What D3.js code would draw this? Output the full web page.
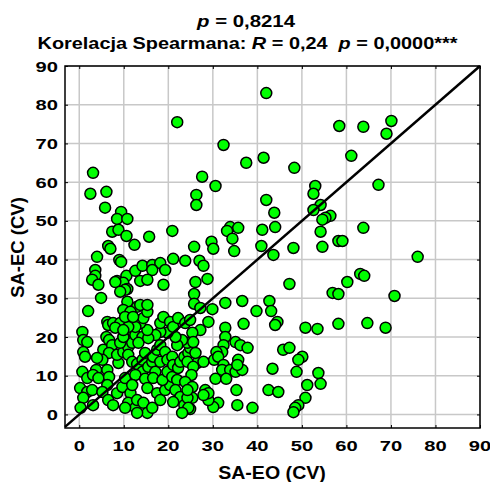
<!DOCTYPE html>
<html><head><meta charset="utf-8">
<script src="https://cdn.jsdelivr.net/npm/d3@7"></script>
<style>body{margin:0;background:#fff}svg{display:block}text{font-family:"Liberation Sans",Arial,sans-serif;font-weight:bold;fill:#000}</style>
</head><body><svg id="c" width="490" height="482"></svg>
<script>
const xTicks = [0,10,20,30,40,50,60,70,80,90];
const yTicks = [0,10,20,30,40,50,60,70,80,90];
const xTitle = "SA-EO (CV)";
const yTitle = "SA-EC (CV)";
const saEO = [
42,22,70.1,69,58.4,63.8,61.1,67.2,32.4,37.5,41.4,48.3,27.6,30.6,26.3,42,53,52.6,3.1,2.5,6.1,5.8,9.4,8.5,10.8,7.4,8.8,10.6,12.4,15.7,20.9,6.5,7,4,9,9.4,3.6,3.6,2.9,4.3,8.5,10.6,9.9,10.8,12.6,14.2,16.4,18.2,16.4,19.3,21.1,23.8,13.7,15.3,8.1,10.3,4.9,18.9,
26.3,43.8,54.2,52.6,56.4,55.3,54.6,54.2,54.6,58.2,33.9,35.7,33.2,34.4,34.8,41.1,44,40.9,43.6,48.1,29.7,30.1,25.8,27,27.9,28.8,26.1,25.8,47.2,56.9,58.2,32.8,36.6,42.7,43.1,39.8,29.9,25.8,27.2,
29,27.2,25.4,26.5,27.9,32.8,32.8,32.4,32.1,30.8,30.3,31.2,32.4,32.1,33.9,35.1,36.6,35.7,35.5,30.6,33,35.3,35.5,38.9,31.2,30.1,29,28.3,29,27.9,24.9,36.9,35.1,36.2,37.8,44.5,44,43.4,42.5,44.7,45.8,47.2,50.1,49.2,48.8,50.8,53.5,58.2,53.7,54.2,51.2,50.8,49.2,48.5,48.1,25.4,
63.8,59.1,76,63.1,64,60.2,70.8,64.7,68.8,
2,0.7,0.9,1.8,0.9,1.3,0.7,1.8,0.2,1.8,0.9,2.9,3.1,6.3,6.5,7.6,9.2,8.1,6.1,6.7,5.4,7.4,6.7,5.2,4,3.8,3.1,4.3,6.3,6.7,6.3,5.2,6.5,7.6,8.5,9.7,11.5,11,12.6,10.3,13,14.4,15.3,13,16.4,10.3,8.8,8.5,9.9,11,11.9,9.2,9.9,12.1,12.6,14.2,13.3,11,11.9,13,14.2,14.8,14.2,12.6,11.9,14.8,15.5,16.4,16.6,17.1,16.6,15.3,17.5,18.2,19.3,20.4,18.7,19.8,20.9,22,21.6,22.7,21.1,23.6,24.3,24.5,17.5,18.2,19.3,18.2,19.8,20.9,21.1,22.2,22.7,23.6,24.5,24.3,24.9,24.3,23.1,22,21.6,19.8,18.2,17.1,15.5,15.3,13.7,14.4,12.6,11,9.9,18.2,18.9,20.4,21.1,22.2,23.8,24.9,25.4,25.6,26.1,25.6,25.2,23.8,25.4,24.3,15.3,13,10.8,9.9,11.5,10.3,12.1,9.2,13.7,15.3,0.3,23.1
];
const saEC = [
83,75.5,75.8,72.5,74.5,74.3,66.8,59.3,69.6,65,66.3,63.7,61.4,59,56.7,55.4,59,57,62.4,57,57.5,53.4,52.3,50.5,50.5,47.2,47.7,46.1,43.8,45.9,47.4,43.5,42.8,40.7,39.9,39.4,37.3,35.8,34.8,33.5,34.5,35.8,34,32.4,37.1,38.4,38.6,39.1,37.3,37.3,40.2,39.7,34.5,34.8,34.2,32.2,30.1,33.5,
54.1,52.1,54.1,52.8,51.3,50.8,50.3,47.2,43.3,44.8,48.4,48.2,47.4,45.4,42.2,47.7,48.4,43.5,41.2,43,44.6,42.8,43.3,39.7,38.4,35,34.2,31.1,33.7,31.4,31.1,28.8,29.3,29.3,26.7,26.7,27.2,28.6,27.5,
23.9,21.8,18.5,13.3,13.6,22.4,20,17.9,16.1,16.1,14.1,14.9,12.8,11.5,11.5,11,11.5,14.1,12.8,9.2,9.2,6.3,2.4,1.7,3,1.9,3.7,6.3,5.5,5,1.4,23.4,18.7,17.9,17.2,23.9,23.1,11.8,6.3,5.8,16.7,17.2,14.9,14.1,11,22.4,22.1,23.4,10.7,7.9,7.6,4.3,2.4,1.7,0.6,4.3,
48.2,44.8,40.7,36.3,35.8,34.2,30.6,23.6,22.4,
26.7,21.3,19.2,18.7,16.1,14.9,11,9.4,6.8,5.8,4.3,6.3,2.4,23.9,23.1,23.6,23.6,22.4,20,19.2,16.7,17.9,15.9,14.1,14.6,11.5,10.2,9.4,11.5,9.7,7.6,5.8,3.7,2.4,5.5,7.1,5.5,3,1.7,1.7,3.7,3,0.4,0.4,1.7,9.4,13.3,15.4,16.1,17.4,18.5,18.5,20,21.3,20.5,20,18.5,15.4,13.6,13,14.1,15.9,11,10.2,7.6,9.2,12.3,13.6,14.9,11,9.4,6.8,5.5,3.7,6.3,7.6,8.9,11,9.7,8.9,6.3,4.5,3.2,2.4,4.3,1.7,16.7,17.9,16.1,13.6,14.1,14.9,12.8,12,13.6,14.9,15.9,13.6,17.2,18.5,19.2,17.9,20,21.1,21.3,20.5,19.7,21.8,23.6,24.9,22.6,22.6,21.8,23.6,25.2,23.9,22.6,24.9,23.6,24.4,21.1,18.7,15.9,12.3,10.2,8.4,7.1,6.3,26.5,27.8,29.1,27,26.5,25.2,25.2,31.7,28.3,28.3,1.7,0.4
];

const svg = d3.select("#c");
const L=65,R=480,T=66,B=428;
const x = d3.scaleLinear().domain([-3.2,90]).range([L,R]);
const y = d3.scaleLinear().domain([-3.5,90]).range([B,T]);

// grid
svg.append("g").selectAll("line").data(xTicks).join("line")
  .attr("x1",d=>x(d)).attr("x2",d=>x(d)).attr("y1",T).attr("y2",B)
  .attr("stroke","#c8c8c8").attr("stroke-width",1.5);
svg.append("g").selectAll("line").data(yTicks).join("line")
  .attr("y1",d=>y(d)).attr("y2",d=>y(d)).attr("x1",L).attr("x2",R)
  .attr("stroke","#c8c8c8").attr("stroke-width",1.5);

// axes (inward ticks, labels drawn separately)
const ax = (g, a) => g.call(a).call(s=>s.selectAll("text").remove()).call(s=>s.select(".domain").remove());
ax(svg.append("g").attr("transform",`translate(0,${B})`), d3.axisTop(x).tickValues(xTicks).tickSize(3));
ax(svg.append("g").attr("transform",`translate(0,${T})`), d3.axisBottom(x).tickValues(xTicks).tickSize(3));
ax(svg.append("g").attr("transform",`translate(${L},0)`), d3.axisRight(y).tickValues(yTicks).tickSize(3));
ax(svg.append("g").attr("transform",`translate(${R},0)`), d3.axisLeft(y).tickValues(yTicks).tickSize(3));

// tick labels
const sx = 1.3;
svg.append("g").selectAll("g").data(xTicks).join("g")
  .attr("transform",d=>`translate(${x(d)},451) scale(${sx},1)`)
  .append("text").attr("text-anchor","middle").attr("font-size",15.5).text(d=>d);
svg.append("g").selectAll("g").data(yTicks).join("g")
  .attr("transform",d=>`translate(58,${y(d)+5.5}) scale(${sx},1)`)
  .append("text").attr("text-anchor","end").attr("font-size",15.5).text(d=>d);

// points
const pts = saEO.map((v,i)=>[v,saEC[i]]);
svg.append("g").selectAll("circle").data(pts).join("circle")
  .attr("cx",d=>x(d[0])).attr("cy",d=>y(d[1])).attr("r",5.5)
  .attr("fill","#00ff00").attr("stroke","#000").attr("stroke-width",1.5);

// diagonal y = x
svg.append("line").attr("x1",x(-3.2)).attr("y1",y(-3.2)).attr("x2",x(90)).attr("y2",y(90))
  .attr("stroke","#000").attr("stroke-width",2.5);

// frame
svg.append("rect").attr("x",L).attr("y",T).attr("width",R-L).attr("height",B-T)
  .attr("fill","none").attr("stroke","#000").attr("stroke-width",1.5);

// titles
const t1 = svg.append("g").attr("transform","translate(246,27) scale(1.25,1)")
  .append("text").attr("text-anchor","middle").attr("font-size",16.3);
t1.append("tspan").attr("font-style","italic").text("p");
t1.append("tspan").text(" = 0,8214");
const t2 = svg.append("g").attr("transform","translate(247.5,49) scale(1.22,1)")
  .append("text").attr("text-anchor","middle").attr("font-size",16.3).attr("xml:space","preserve");
t2.append("tspan").text("Korelacja Spearmana: ");
t2.append("tspan").attr("font-style","italic").text("R");
t2.append("tspan").text(" = 0,24\u00a0\u00a0");
t2.append("tspan").attr("font-style","italic").text("p");
t2.append("tspan").text(" = 0,0000***");

svg.append("g").attr("transform","translate(272,479) scale(1.12,1)")
  .append("text").attr("text-anchor","middle").attr("font-size",17.5).text(xTitle);
svg.append("text").attr("transform","translate(24,247.5) rotate(-90)")
  .attr("text-anchor","middle").attr("font-size",18.5).text(yTitle);
</script></body></html>
